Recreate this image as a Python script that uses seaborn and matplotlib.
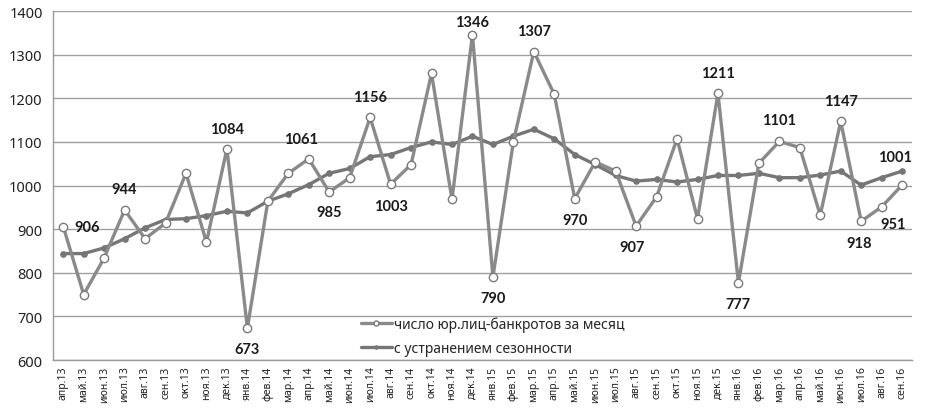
import numpy as np
import pandas as pd
import matplotlib
matplotlib.use('Agg')
import matplotlib.pyplot as plt
import seaborn as sns

# месяцы
months = ['апр.13', 'май.13', 'июн.13', 'июл.13', 'авг.13', 'сен.13', 'окт.13', 'ноя.13', 'дек.13',
          'янв.14', 'фев.14', 'мар.14', 'апр.14', 'май.14', 'июн.14', 'июл.14', 'авг.14', 'сен.14',
          'окт.14', 'ноя.14', 'дек.14',
          'янв.15', 'фев.15', 'мар.15', 'апр.15', 'май.15', 'июн.15', 'июл.15', 'авг.15', 'сен.15',
          'окт.15', 'ноя.15', 'дек.15',
          'янв.16', 'фев.16', 'мар.16', 'апр.16', 'май.16', 'июн.16', 'июл.16', 'авг.16', 'сен.16']

# число юр.лиц-банкротов за месяц
bankrupts = [906, 750, 834, 944, 878, 914, 1028, 870, 1084,
             673, 964, 1028, 1061, 985, 1018, 1156, 1003, 1048, 1257, 968, 1346,
             790, 1100, 1307, 1209, 970, 1054, 1033, 907, 974, 1107, 924, 1211,
             777, 1051, 1101, 1087, 932, 1147, 918, 951, 1001]

# с устранением сезонности
seasonal_adj = [844, 844, 857, 878, 903, 922, 924, 931, 941,
                937, 964, 981, 1002, 1028, 1039, 1066, 1071, 1087, 1100, 1094, 1113,
                1094, 1113, 1129, 1107, 1071, 1048, 1023, 1010, 1014, 1008, 1014, 1023,
                1023, 1028, 1018, 1018, 1024, 1033, 1001, 1018, 1033]

# подписанные точки: индекс месяца
labeled = [0, 3, 8, 9, 12, 13, 15, 16, 20, 21, 23, 25, 28, 32, 33, 35, 38, 39, 40, 41]
# смещения подписей в пикселях
label_offsets = {0: (24, 0), 3: (0, 21), 8: (0, 20), 9: (0, -21), 12: (-8, 20), 13: (0, -20),
                 15: (0, 20), 16: (0, -22), 20: (0, 13), 21: (0, -21), 23: (0, 21), 25: (0, -21),
                 28: (-4, -21), 32: (0, 20), 33: (0, -21), 35: (0, 21), 38: (0, 20), 39: (-2, -22),
                 40: (11, -17), 41: (-7, 28)}

df = pd.DataFrame({'pos': np.arange(len(months)), 'month': months,
                   'bankrupts': bankrupts, 'seasonal_adj': seasonal_adj})

sns.set_style('white')
plt.rcParams['font.family'] = ['Noto Sans', 'DejaVu Sans']

fig, ax = plt.subplots(figsize=(9.3, 4.14), dpi=100)
fig.subplots_adjust(left=0.057, right=0.981, top=0.971, bottom=0.128)

sns.lineplot(data=df, x='pos', y='bankrupts', ax=ax, color='#8a8a8a', linewidth=2.4,
             marker='o', markersize=6, markerfacecolor='white', markeredgecolor='#7a7a7a',
             markeredgewidth=1.0, label='число юр.лиц-банкротов за месяц', zorder=3)
sns.lineplot(data=df, x='pos', y='seasonal_adj', ax=ax, color='#767676', linewidth=2.4,
             marker='o', markersize=4, markerfacecolor='#767676', markeredgecolor='#767676',
             label='с устранением сезонности', zorder=2)

for i in labeled:
    dx, dy = label_offsets[i]
    ax.annotate(str(bankrupts[i]), (i, bankrupts[i]), xytext=(dx, dy),
                textcoords='offset pixels', ha='center', va='center',
                fontsize=10.5, fontweight='bold', color='#1a1a1a',
                family=['Lato', 'Liberation Sans', 'DejaVu Sans'])

ax.set_ylim(600, 1400)
ax.set_yticks(range(600, 1401, 100))
ax.set_xlim(-0.5, len(months) - 0.5)
ax.set_xticks(df['pos'])
ax.set_xticklabels(months, rotation=90, fontsize=7.5)
ax.set_xticks(np.arange(-0.5, len(months), 1), minor=True)
ax.tick_params(axis='x', which='major', length=0, pad=4, colors='#222222')
ax.tick_params(axis='x', which='minor', length=4, color='#888888', width=0.8)
ax.tick_params(axis='y', length=4, width=0.8, labelsize=10.5, colors='#888888', labelcolor='#222222')
ax.grid(axis='y', color='#a0a0a0', linewidth=1.0)
ax.set_xlabel('')
ax.set_ylabel('')

for side in ['top', 'right']:
    ax.spines[side].set_visible(False)
for side in ['left', 'bottom']:
    ax.spines[side].set_color('#999999')
    ax.spines[side].set_linewidth(1.0)

ax.legend(loc='upper left', bbox_to_anchor=(0.352, 0.14), frameon=False, fontsize=10,
          handlelength=2.2, handletextpad=0.2, labelspacing=0.6, borderaxespad=0,
          markerscale=0.6)

plt.savefig('out.png', dpi=100)
